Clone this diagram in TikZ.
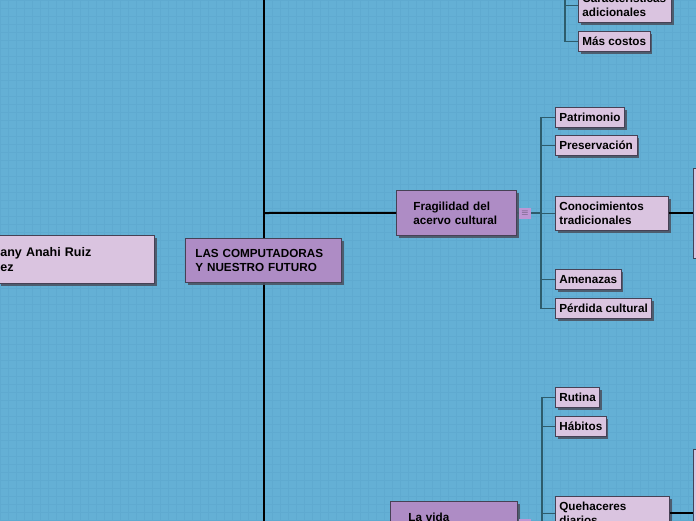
\documentclass[tikz,border=0pt]{standalone}
\usepackage{fontspec}
\setmainfont{Liberation Sans}
\usetikzlibrary{shadows}
\definecolor{bgblue}{RGB}{100,176,213}
\definecolor{gridc}{RGB}{95,170,208}
\definecolor{lilac}{RGB}{218,196,224}
\definecolor{purp}{RGB}{174,140,197}
\definecolor{iconc}{RGB}{190,150,212}
\definecolor{bord}{RGB}{70,65,85}
\definecolor{branchc}{RGB}{45,92,108}
\definecolor{shad}{RGB}{75,85,100}
\tikzset{
  box/.style={draw=bord, line width=0.7pt, anchor=north west, inner ysep=0pt, align=left,
    font=\fontsize{11.7}{14}\selectfont\bfseries,
    drop shadow={shadow xshift=2.2pt, shadow yshift=-2.2pt, fill=shad, opacity=0.9}},
  leaf/.style={box, fill=lilac, inner xsep=4pt, minimum height=20pt},
  topic/.style={box, fill=purp},
  trunk/.style={line width=2pt, black},
  branch/.style={line width=1.2pt, branchc},
  icon/.style={fill=iconc, minimum width=12pt, minimum height=11pt, inner sep=0pt, font=\small, text=bord},
}
\begin{document}
\begin{tikzpicture}[x=1pt,y=-1pt]
\useasboundingbox (0,0) rectangle (696,520);
\clip (0,0) rectangle (696,520);
\fill[bgblue] (0,0) rectangle (696,520);
\foreach \i in {0,8,...,696} \draw[gridc, line width=0.6pt] (\i,0) -- (\i,520);
\foreach \j in {0,8,...,520} \draw[gridc, line width=0.6pt] (0,\j) -- (696,\j);

% trunk
\coordinate (tTop) at (264,-5);
\coordinate (tBot) at (264,530);
\coordinate (tF) at (264,213);
\coordinate (tV) at (264,523);
\draw[trunk] (tTop) -- (tBot);

% main nodes
\node[box, fill=lilac, inner xsep=2pt, text width=152pt, minimum height=48pt,
  font=\fontsize{12.5}{15}\selectfont\bfseries] (autor) at (-2,235) {any Anahi Ruiz\\ez};
\node[topic, inner xsep=10pt, text width=136pt, minimum height=44pt] (root) at (185,238) {LAS COMPUTADORAS\\Y NUESTRO FUTURO};
\node[topic, inner xsep=17pt, text width=86pt, minimum height=45pt] (frag) at (396,190) {Fragilidad del\\acervo cultural};
\node[topic, inner xsep=18pt, text width=91pt, minimum height=45pt] (vida) at (390,501) {La vida\\\mbox{}};
\node[icon] (iconF) at (525,213) {$\equiv$};
\node[icon] (iconV) at (525,524) {$\equiv$};

% leaves
\node[leaf] (patr) at (555,107) {Patrimonio};
\node[leaf] (pres) at (555,135) {Preservación};
\node[leaf, text width=105pt, minimum height=34pt] (cono) at (555,196) {Conocimientos\\tradicionales};
\node[leaf] (amen) at (555,269) {Amenazas};
\node[leaf] (perd) at (555,298) {Pérdida cultural};
\node[leaf, text width=85pt, minimum height=34pt] (cara) at (578,-12) {Características\\adicionales};
\node[leaf] (mas) at (578,31) {Más costos};
\node[leaf] (ruti) at (555,387) {Rutina};
\node[leaf] (habi) at (555,416) {Hábitos};
\node[leaf, text width=106pt, minimum height=34pt] (queh) at (555,496) {Quehaceres\\diarios};
\node[leaf, minimum width=40pt, minimum height=90pt] (rbA) at (693,168) {};
\node[leaf, minimum width=40pt, minimum height=128pt] (rbB) at (693,449) {};

% connectors
\draw[trunk] (tF) -- (frag.west);
\draw[trunk] (tV) -- (vida.west);
\draw[bord, densely dotted, line width=0.8pt] (frag.east) -- (iconF.west);
\draw[bord, densely dotted, line width=0.8pt] (vida.east) -- (iconV.west);

\coordinate (hubF) at (541,213);
\draw[branch] (iconF.east) -- (hubF);
\foreach \n in {patr,pres,cono,amen,perd} \draw[branch] (hubF) |- (\n.west);

\coordinate (hubT) at (565,-20);
\foreach \n in {cara,mas} \draw[branch] (hubT) |- (\n.west);

\coordinate (hubV) at (542,524);
\draw[branch] (iconV.east) -- (hubV);
\foreach \n in {ruti,habi,queh} \draw[branch] (hubV) |- (\n.west);

\draw[trunk] (cono.east) -- (rbA.west);
\draw[trunk] (queh.east) -- (rbB.west);
\end{tikzpicture}
\end{document}
